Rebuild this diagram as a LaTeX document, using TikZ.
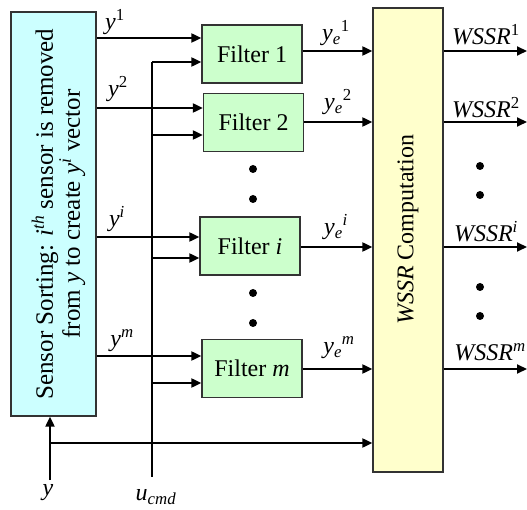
\documentclass[tikz,border=0pt]{standalone}
\usepackage{fontspec}
\setmainfont{Liberation Serif}
\usetikzlibrary{arrows.meta}
\definecolor{sensorcol}{HTML}{CCFFFF}
\definecolor{filtcol}{HTML}{CCFFCC}
\definecolor{compcol}{HTML}{FFFFCC}
\definecolor{edgecol}{HTML}{333333}
\begin{document}
\begin{tikzpicture}[x=1pt,y=-1pt,
  arr/.style={line width=2pt,-{Triangle[length=10pt,width=9pt]}},
  ln/.style={line width=2pt},
  box/.style={draw=edgecol,line width=1.3pt,inner sep=0pt},
  fbox/.style={box,fill=filtcol,minimum width=100pt,minimum height=58pt,font=\fontsize{24}{28}\selectfont},
  lbl/.style={inner sep=0pt,font=\fontsize{24}{28}\selectfont},
  dot/.style={circle,fill=black,inner sep=0pt,minimum size=8pt}]
\useasboundingbox (0,0) rectangle (527,510);
% boxes
\node[box,fill=sensorcol,minimum width=85pt,minimum height=404pt] (sensor) at (53.5,214) {};
\node[lbl,rotate=90,align=center,font=\fontsize{25}{27}\selectfont] (stext) at (58.5,214)
  {Sensor Sorting: \textit{i}\textsuperscript{\textit{th}} sensor is removed\\from \textit{y} to create \textit{y}\textsuperscript{\textit{i}} vector};
\node[box,fill=compcol,minimum width=70pt,minimum height=464pt] (comp) at (408,240) {};
\node[lbl,rotate=90] (ctext) at (408,230) {\textit{WSSR} Computation};
\node[fbox] (f1) at (252,54) {Filter 1};
\node[fbox] (f2) at (253.5,122.5) {Filter 2};
\node[fbox] (fi) at (250,246) {Filter \textit{i}};
\node[fbox] (fm) at (252,368.5) {Filter \textit{m}};
% dots
\node[dot] (d1) at (253,169) {};
\node[dot] (d2) at (253,199) {};
\node[dot] (d3) at (253,293) {};
\node[dot] (d4) at (253,323) {};
\node[dot] (d5) at (480,166) {};
\node[dot] (d6) at (480,195) {};
\node[dot] (d7) at (480,287) {};
\node[dot] (d8) at (480,316) {};
% coordinates for signal rows
\coordinate (r1) at (0,38);
\coordinate (r2) at (0,108);
\coordinate (ri) at (0,237);
\coordinate (rm) at (0,356);
\coordinate (u1) at (152,62);
\coordinate (u2) at (152,135);
\coordinate (ui) at (152,258);
\coordinate (um) at (152,383);
\coordinate (uend) at (152,477);
\coordinate (o1) at (0,51);
\coordinate (o2) at (0,122);
\coordinate (oi) at (0,247);
\coordinate (om) at (0,369);
\coordinate (yin) at (50,480);
\coordinate (ybot) at (50,443);
\coordinate (redge) at (527,0);
% sensor outputs to filters
\draw[arr] (sensor.east |- r1) -- (f1.west |- r1);
\draw[arr] (sensor.east |- r2) -- (f2.west |- r2);
\draw[arr] (sensor.east |- ri) -- (fi.west |- ri);
\draw[arr] (sensor.east |- rm) -- (fm.west |- rm);
% u_cmd bus
\draw[ln] (u1) -- (uend);
\draw[arr] (u1) -- (f1.west |- u1);
\draw[arr] (u2) -- (f2.west |- u2);
\draw[arr] (ui) -- (fi.west |- ui);
\draw[arr] (um) -- (fm.west |- um);
% filter outputs
\draw[arr] (f1.east |- o1) -- (comp.west |- o1);
\draw[arr] (f2.east |- o2) -- (comp.west |- o2);
\draw[arr] (fi.east |- oi) -- (comp.west |- oi);
\draw[arr] (fm.east |- om) -- (comp.west |- om);
% comp outputs
\draw[arr] (comp.east |- o1) -- (redge |- o1);
\draw[arr] (comp.east |- o2) -- (redge |- o2);
\draw[arr] (comp.east |- oi) -- (redge |- oi);
\draw[arr] (comp.east |- om) -- (redge |- om);
% y input
\draw[arr] (yin) -- (yin |- sensor.south);
\draw[arr] (ybot) -- (comp.west |- ybot);
% labels
\node[lbl] (ly1) at (115,22) {\textit{y}\textsuperscript{1}};
\node[lbl] (ly2) at (118,89) {\textit{y}\textsuperscript{2}};
\node[lbl] (lyi) at (117,219) {\textit{y}\textsuperscript{\textit{i}}};
\node[lbl] (lym) at (122,341) {\textit{y}\textsuperscript{\textit{m}}};
\node[lbl] (le1) at (336,33) {\textit{y}\textsubscript{\textit{e}}\textsuperscript{1}};
\node[lbl] (le2) at (338,102) {\textit{y}\textsubscript{\textit{e}}\textsuperscript{2}};
\node[lbl] (lei) at (336,227) {\textit{y}\textsubscript{\textit{e}}\textsuperscript{\textit{i}}};
\node[lbl] (lem) at (339,348) {\textit{y}\textsubscript{\textit{e}}\textsuperscript{\textit{m}}};
\node[lbl] (w1) at (486,35) {\textit{WSSR}\textsuperscript{1}};
\node[lbl] (w2) at (486,108) {\textit{WSSR}\textsuperscript{2}};
\node[lbl] (wi) at (486,232) {\textit{WSSR}\textsuperscript{\textit{i}}};
\node[lbl] (wm) at (490,352) {\textit{WSSR}\textsuperscript{\textit{m}}};
\node[lbl] (ly) at (48,493) {\textit{y}};
\node[lbl] (lu) at (156,497) {\textit{u}\textsubscript{\textit{cmd}}};
\end{tikzpicture}
\end{document}
